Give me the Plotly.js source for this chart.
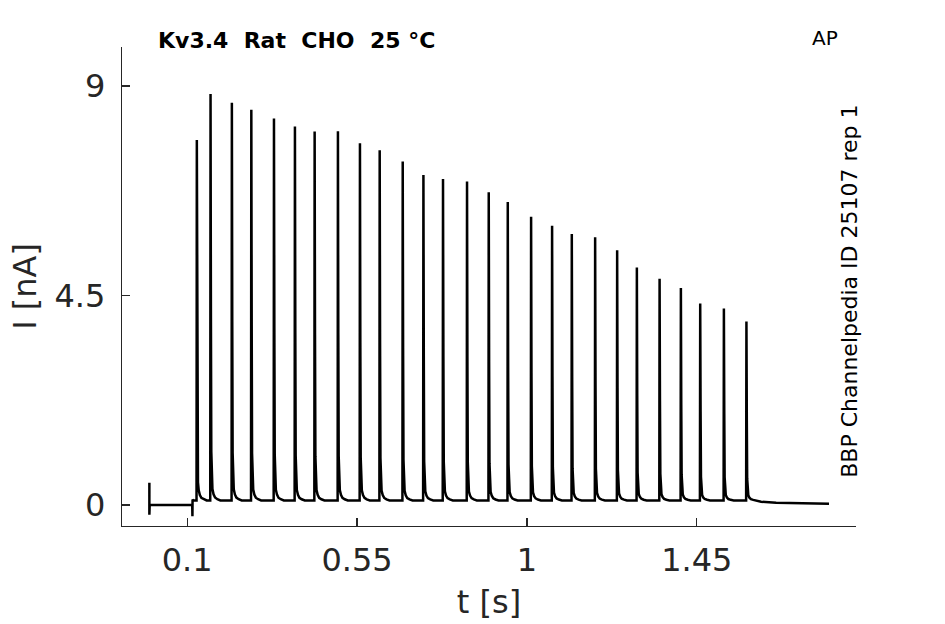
<!DOCTYPE html>
<html>
<head>
<meta charset="utf-8">
<script src="https://cdn.plot.ly/plotly-3.0.1.min.js"></script>
<style>
  html, body { margin: 0; padding: 0; background: #fff; }
  #plot { width: 945px; height: 624px; }
</style>
</head>
<body>
<div id="plot"></div>
<script>
// spike times (s) and peak currents (nA)
const spikeT = [0.1257, 0.162, 0.2185, 0.270, 0.330, 0.3855, 0.4377, 0.4994, 0.5577,
  0.610, 0.671, 0.7258, 0.7777, 0.8413, 0.8988, 0.9492, 1.011, 1.0666, 1.1188,
  1.1806, 1.2389, 1.2911, 1.3513, 1.4077, 1.4589, 1.5216, 1.5813];
const spikePeak = [7.84, 8.83, 8.64, 8.49, 8.30, 8.13, 8.02, 8.03, 7.77,
  7.62, 7.38, 7.09, 7.00, 6.95, 6.72, 6.51, 6.19, 6.00, 5.82,
  5.75, 5.47, 5.10, 4.86, 4.66, 4.33, 4.22, 3.94];

// decay shape after each peak: time after peak (s), fraction of peak above baseline
const decayDt = [0.001, 0.002, 0.003, 0.005, 0.008, 0.012, 0.018, 0.026];
const decayFrac = [0.45, 0.12, 0.05, 0.028, 0.015, 0.007, 0.003, 0];

// baseline pieces and stimulus artifacts
const artifactT = [0, 0.114];
const artifactHi = [0.48, 0.12];
const artifactLo = [-0.21, -0.24];
const trainBase = 0.1;
const tailT = [1.62, 1.66, 1.72, 1.8];
const tailI = [0.07, 0.05, 0.04, 0.03];

const tickX = [0.1, 0.55, 1, 1.45];
const tickY = [0, 4.5, 9];

// build the current trace
let xs = [], ys = [];
xs.push(artifactT[0], artifactT[0], artifactT[0] + 0.0008, artifactT[1] - 0.0005);
ys.push(artifactHi[0], artifactLo[0], 0, 0);
xs.push(artifactT[1], artifactT[1] + 0.0004, artifactT[1] + 0.002);
ys.push(artifactLo[1], artifactHi[1], trainBase);

spikeT.forEach((t0, i) => {
    const amp = spikePeak[i] - trainBase;
    xs.push(t0 - 0.0008, t0);
    ys.push(trainBase, spikePeak[i]);
    decayDt.forEach((dt, k) => {
        const next = i + 1 < spikeT.length ? spikeT[i + 1] : Infinity;
        if (t0 + dt < next - 0.001) {
            xs.push(t0 + dt);
            ys.push(trainBase + amp * decayFrac[k]);
        }
    });
});
tailT.forEach((t, i) => { xs.push(t); ys.push(tailI[i]); });

const axisColor = "#262626";
const fontFam = "DejaVu Sans, sans-serif";

let trace = {
    x: xs,
    y: ys,
    mode: "lines",
    type: "scatter",
    line: { color: "#000", width: 2.5 },
    hoverinfo: "skip"
};

let layout = {
    width: 945,
    height: 624,
    margin: { l: 122, r: 89, t: 47, b: 97.5 },
    paper_bgcolor: "#fff",
    plot_bgcolor: "#fff",
    showlegend: false,
    title: {
        text: "<b>Kv3.4  Rat  CHO  25 °C</b>",
        font: { family: fontFam, size: 22, color: "#000" },
        x: 158 / 945, xanchor: "left", xref: "container",
        y: 1 - 40 / 624, yanchor: "middle", yref: "container"
    },
    xaxis: {
        range: [-0.0725, 1.8715],
        tickvals: tickX,
        ticktext: tickX.map(String),
        ticks: "inside", ticklen: 8, tickwidth: 1.2, tickcolor: axisColor,
        showline: true, linecolor: axisColor, linewidth: 1.3,
        showgrid: false, zeroline: false,
        tickfont: { family: fontFam, size: 32, color: axisColor },
        ticklabelstandoff: 5,
        title: { text: "t [s]", font: { family: fontFam, size: 32, color: axisColor }, standoff: 13 }
    },
    yaxis: {
        range: [-0.45, 9.837],
        tickvals: tickY,
        ticktext: ["0", "4.5", "9"],
        ticks: "inside", ticklen: 8, tickwidth: 1.2, tickcolor: axisColor,
        showline: true, linecolor: axisColor, linewidth: 1.3,
        showgrid: false, zeroline: false,
        tickfont: { family: fontFam, size: 32, color: axisColor },
        ticklabelstandoff: 9,
        title: { text: "I [nA]", font: { family: fontFam, size: 32, color: axisColor }, standoff: 8 }
    },
    annotations: [
        {
            text: "AP", xref: "paper", yref: "paper",
            x: (825 - 122) / 734, y: 1 + (47 - 38) / 479.5,
            xanchor: "center", yanchor: "middle", showarrow: false,
            font: { family: fontFam, size: 20, color: "#000" }
        },
        {
            text: "BBP Channelpedia ID 25107 rep 1", xref: "paper", yref: "paper",
            x: (850 - 122) / 734, y: (526.5 - 292) / 479.5,
            xanchor: "center", yanchor: "middle", textangle: -90, showarrow: false,
            font: { family: fontFam, size: 22, color: "#000" }
        }
    ]
};

Plotly.newPlot("plot", [trace], layout, { displayModeBar: false, staticPlot: true });
</script>
</body>
</html>
